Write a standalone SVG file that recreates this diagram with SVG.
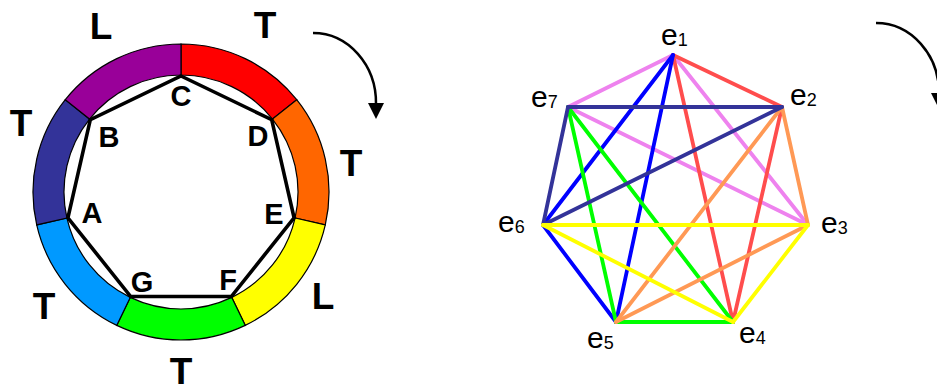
<svg xmlns="http://www.w3.org/2000/svg" width="937" height="387" viewBox="0 0 937 387">
<style>
.seg{stroke:#000;stroke-width:1.2}
.big{font-family:"Liberation Sans",Arial,sans-serif;font-weight:bold;font-size:37px;fill:#000;text-anchor:middle}
.vl{font-family:"Liberation Sans",Arial,sans-serif;font-weight:bold;font-size:29px;fill:#000;text-anchor:middle}
.el{font-family:"Liberation Sans",Arial,sans-serif;font-size:30px;fill:#000}
.el tspan{font-size:18px}
.e{stroke-width:3.8;fill:none;stroke-linecap:round}
.arrow{fill:none;stroke:#000;stroke-width:2.5}
</style>
<rect width="937" height="387" fill="#fff"/>
<g id="ring">
<path class="seg" fill="#FF0000" d="M181,44 A148,148 0 0 1 296.71,99.72 L272.47,119.05 A117,117 0 0 0 181,75 Z"/>
<path class="seg" fill="#FF6600" d="M296.71,99.72 A148,148 0 0 1 325.29,224.93 L295.07,218.03 A117,117 0 0 0 272.47,119.05 Z"/>
<path class="seg" fill="#FFFF00" d="M325.29,224.93 A148,148 0 0 1 245.21,325.34 L231.76,297.41 A117,117 0 0 0 295.07,218.03 Z"/>
<path class="seg" fill="#00FF00" d="M245.21,325.34 A148,148 0 0 1 116.79,325.34 L130.24,297.41 A117,117 0 0 0 231.76,297.41 Z"/>
<path class="seg" fill="#0099FF" d="M116.79,325.34 A148,148 0 0 1 36.71,224.93 L66.93,218.03 A117,117 0 0 0 130.24,297.41 Z"/>
<path class="seg" fill="#333399" d="M36.71,224.93 A148,148 0 0 1 65.29,99.72 L89.53,119.05 A117,117 0 0 0 66.93,218.03 Z"/>
<path class="seg" fill="#990099" d="M65.29,99.72 A148,148 0 0 1 181,44 L181,75 A117,117 0 0 0 89.53,119.05 Z"/>
</g>
<g id="heptagon">
<polygon points="181,76 271.69,119.68 294.09,217.81 231.33,296.51 130.67,296.51 67.91,217.81 90.31,119.68" fill="none" stroke="#000" stroke-width="3.6" stroke-linejoin="miter"/>
</g>
<g id="vertex-labels">
<text class="vl" x="181" y="106">C</text>
<text class="vl" x="109" y="147">B</text>
<text class="vl" x="258" y="146">D</text>
<text class="vl" x="92" y="223">A</text>
<text class="vl" x="274" y="224">E</text>
<text class="vl" x="142" y="292">G</text>
<text class="vl" x="228" y="290">F</text>
</g>
<g id="ring-labels">
<text class="big" x="101" y="39">L</text>
<text class="big" x="265" y="38">T</text>
<text class="big" x="21" y="136">T</text>
<text class="big" x="351" y="176">T</text>
<text class="big" x="323" y="309">L</text>
<text class="big" x="44" y="319">T</text>
<text class="big" x="181" y="384">T</text>
</g>
<g id="arrow1">
<path class="arrow" d="M313,33 A63,70 0 0 1 376,104"/>
<polygon points="368,103 384,103 376,119" fill="#000"/>
</g>
<g id="arrow2" transform="translate(563,-10)">
<path class="arrow" d="M313,33 A63,70 0 0 1 376,104"/>
<polygon points="368,103 384,103 376,119" fill="#000"/>
</g>
<g id="connectors">
<line class="e" stroke="#EE82EE" x1="673" y1="55" x2="568" y2="107"/>
<line class="e" stroke="#EE82EE" x1="673" y1="55" x2="808" y2="225"/>
<line class="e" stroke="#EE82EE" x1="568" y1="107" x2="808" y2="225"/>
<line class="e" stroke="#FF4D4D" x1="673" y1="55" x2="782" y2="107"/>
<line class="e" stroke="#FF4D4D" x1="673" y1="55" x2="733" y2="322"/>
<line class="e" stroke="#FF4D4D" x1="782" y1="107" x2="733" y2="322"/>
<line class="e" stroke="#0000FF" x1="673" y1="55" x2="543" y2="225"/>
<line class="e" stroke="#0000FF" x1="673" y1="55" x2="616" y2="322"/>
<line class="e" stroke="#0000FF" x1="543" y1="225" x2="616" y2="322"/>
<line class="e" stroke="#00FF00" x1="568" y1="107" x2="616" y2="322"/>
<line class="e" stroke="#00FF00" x1="568" y1="107" x2="733" y2="322"/>
<line class="e" stroke="#00FF00" x1="616" y1="322" x2="733" y2="322"/>
<line class="e" stroke="#FF9955" x1="782" y1="107" x2="808" y2="225"/>
<line class="e" stroke="#FF9955" x1="782" y1="107" x2="616" y2="322"/>
<line class="e" stroke="#FF9955" x1="808" y1="225" x2="616" y2="322"/>
<line class="e" stroke="#333399" x1="568" y1="107" x2="782" y2="107"/>
<line class="e" stroke="#333399" x1="568" y1="107" x2="543" y2="225"/>
<line class="e" stroke="#333399" x1="782" y1="107" x2="543" y2="225"/>
<line class="e" stroke="#FFFF00" x1="543" y1="225" x2="808" y2="225"/>
<line class="e" stroke="#FFFF00" x1="543" y1="225" x2="733" y2="322"/>
<line class="e" stroke="#FFFF00" x1="808" y1="225" x2="733" y2="322"/>
</g>
<g id="e1"><text class="el" x="661" y="45">e<tspan dy="1">1</tspan></text></g>
<g id="e2"><text class="el" x="790" y="105">e<tspan dy="1">2</tspan></text></g>
<g id="e3"><text class="el" x="821" y="233">e<tspan dy="1">3</tspan></text></g>
<g id="e4"><text class="el" x="739" y="343">e<tspan dy="1">4</tspan></text></g>
<g id="e5"><text class="el" x="587" y="348">e<tspan dy="1">5</tspan></text></g>
<g id="e6"><text class="el" x="498" y="232">e<tspan dy="1">6</tspan></text></g>
<g id="e7"><text class="el" x="531" y="107">e<tspan dy="1">7</tspan></text></g>
</svg>
